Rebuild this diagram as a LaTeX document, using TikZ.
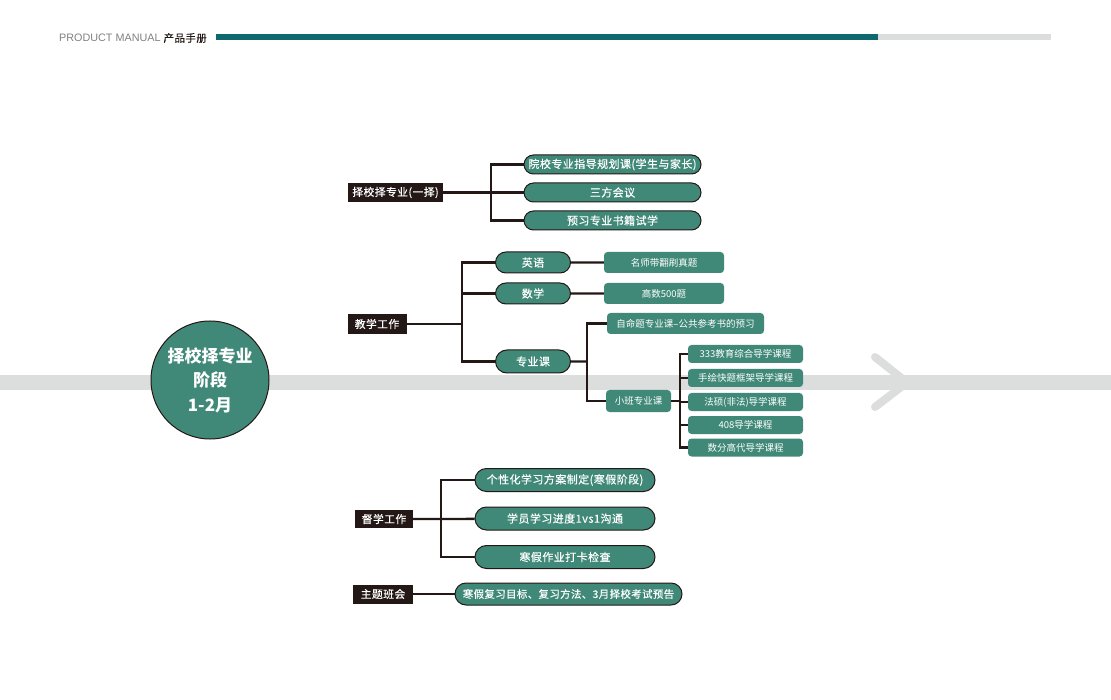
\documentclass[tikz,border=0pt]{standalone}
\usepackage{fontspec}
\setmainfont{Noto Sans CJK SC}
\newfontfamily\cjkmid{Noto Sans CJK SC}[FakeBold=0.4,LetterSpace=4]
\newfontfamily\headfont{Liberation Sans}
\usetikzlibrary{shapes.misc}
\definecolor{mapgreen}{RGB}{64,137,120}
\definecolor{mapdark}{RGB}{35,24,21}
\definecolor{mapteal}{RGB}{14,104,110}
\definecolor{mapgray}{RGB}{220,221,221}
\tikzset{
  pill/.style={rounded rectangle,draw=mapdark,line width=1pt,fill=mapgreen,text=white,
    inner sep=0pt,font=\cjkmid\fontsize{11}{13}\selectfont},
  tag/.style={fill=mapdark,text=white,inner sep=0pt,font=\cjkmid\fontsize{10.8}{13}\selectfont},
  leaf/.style={fill=mapgreen,rounded corners=3.5pt,text=white,inner sep=0pt,
    font=\fontsize{9.5}{11}\selectfont},
  link/.style={draw=mapdark,line width=2.3pt}
}
\begin{document}
\begin{tikzpicture}[x=1pt,y=-1pt]
  \useasboundingbox (0,0) rectangle (1111,700);
  \node (head) [anchor=west,inner sep=0pt] at (59,38)
    {\headfont\fontsize{10.8}{12}\selectfont\color{gray}PRODUCT MANUAL \color{mapdark}\cjkmid\fontsize{10.5}{12}\selectfont 产品手册};
  \fill[mapteal] (216,34) rectangle (878,40.5);
  \fill[mapgray] (878,34) rectangle (1051,40.5);
  \fill[mapgray] (0,375) rectangle (1111,390);
  \draw[mapgray,line width=8pt,line cap=round,line join=round] (875,357) -- (907,382.5) -- (875,407);
  \node (stage) [circle,draw=mapdark,line width=1pt,fill=mapgreen,text=white,minimum size=118pt,
    align=center,font=\fontsize{17}{24.5}\selectfont\bfseries] at (210,380) {择校择专业\\阶段\\1-2月};
  \node (s1) [tag,minimum width=95pt,minimum height=19pt] at (395.5,192.5) {择校择专业(一择)};
  \node (a1) [pill,minimum width=177pt,minimum height=19pt] at (612.5,164.5) {院校专业指导规划课(学生与家长)};
  \node (a2) [pill,minimum width=177pt,minimum height=19pt] at (612.5,192.5) {三方会议};
  \node (a3) [pill,minimum width=177pt,minimum height=19pt] at (612.5,220.5) {预习专业书籍试学};
  \coordinate (j1) at (491,192.5);
  \draw[link] (s1) -- (j1) -- (a2);
  \draw[link] (j1) |- (a1);
  \draw[link] (j1) |- (a3);
  \node (s2) [tag,minimum width=59pt,minimum height=20pt] at (377,324) {教学工作};
  \node (b1) [pill,minimum width=75pt,minimum height=21pt] at (533,262.5) {英语};
  \node (b2) [pill,minimum width=75pt,minimum height=21pt] at (533,293.5) {数学};
  \node (b3) [pill,minimum width=75pt,minimum height=23pt] at (533,361.5) {专业课};
  \node (c1) [leaf,minimum width=120pt,minimum height=21pt] at (664,262.5) {名师带翻刷真题};
  \node (c2) [leaf,minimum width=120pt,minimum height=21pt] at (664,293.5) {高数500题};
  \node (c3) [leaf,minimum width=157pt,minimum height=21pt] at (685.5,323.5) {自命题专业课--公共参考书的预习};
  \node (c4) [leaf,minimum width=65pt,minimum height=22pt] at (638.5,401) {小班专业课};
  \node (d1) [leaf,minimum width=115pt,minimum height=18pt] at (745.5,354) {333教育综合导学课程};
  \node (d2) [leaf,minimum width=115pt,minimum height=18pt] at (745.5,378) {手绘快题框架导学课程};
  \node (d3) [leaf,minimum width=115pt,minimum height=18pt] at (745.5,402) {法硕(非法)导学课程};
  \node (d4) [leaf,minimum width=115pt,minimum height=18pt] at (745.5,425) {408导学课程};
  \node (d5) [leaf,minimum width=115pt,minimum height=18pt] at (745.5,447.5) {数分高代导学课程};
  \coordinate (j2) at (462,324);
  \coordinate (j3) at (587,361.5);
  \coordinate (j4) at (680,401);
  \draw[link] (s2) -- (j2);
  \draw[link] (j2) |- (b1);
  \draw[link] (j2) |- (b2);
  \draw[link] (j2) |- (b3);
  \draw[link] (b1) -- (c1);
  \draw[link] (b2) -- (c2);
  \draw[link] (b3) -- (j3);
  \draw[link] (j3) |- (c3);
  \draw[link] (j3) |- (c4);
  \draw[link] (c4) -- (j4);
  \foreach \d in {d1,d2,d3,d4,d5}
    \draw[link] (j4) |- (\d);
  \node (s3) [tag,minimum width=58pt,minimum height=18pt] at (384,519) {督学工作};
  \node (e1) [pill,minimum width=180pt,minimum height=23pt] at (565,480) {个性化学习方案制定(寒假阶段)};
  \node (e2) [pill,minimum width=180pt,minimum height=23pt] at (565,518.5) {学员学习进度1vs1沟通};
  \node (e3) [pill,minimum width=180pt,minimum height=23pt] at (565,557) {寒假作业打卡检查};
  \coordinate (j5) at (441,519);
  \draw[link] (s3) -- (j5) -- (e2);
  \draw[link] (j5) |- (e1);
  \draw[link] (j5) |- (e3);
  \node (s4) [tag,minimum width=60pt,minimum height=19pt] at (383,594) {主题班会};
  \node (f1) [pill,minimum width=227pt,minimum height=22pt,font=\cjkmid\fontsize{10.4}{13}\selectfont]
    at (568.5,594) {寒假复习目标、复习方法、3月择校考试预告};
  \draw[link] (s4) -- (f1);
\end{tikzpicture}
\end{document}
